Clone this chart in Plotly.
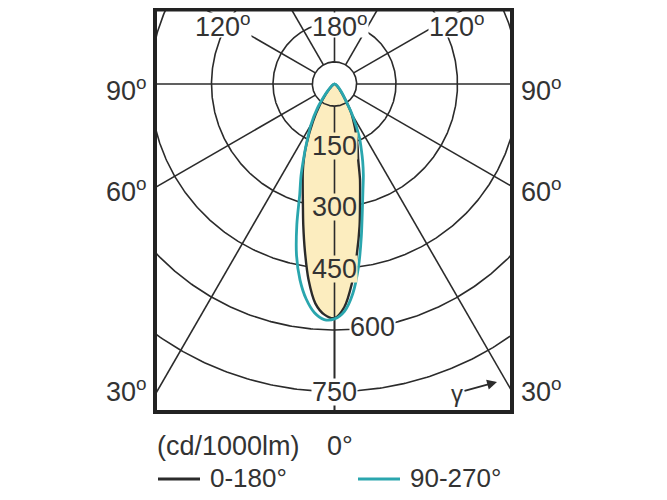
import numpy as np
import plotly.graph_objects as go

# ---------------- data ----------------
gamma = [0, 2.5, 5, 7.5, 10, 12.5, 15, 17.5, 20, 22.5, 25, 30, 35, 40, 45, 50, 60, 70, 80, 90]
c0 = [568, 545, 488, 418, 352, 288, 240, 192, 165, 140, 118, 82, 45, 25, 15, 9, 5, 2, 1, 0]
c180 = [571, 563, 537, 483, 415, 352, 298, 258, 226, 194, 162, 105, 62, 35, 20, 11, 5, 2, 1, 0]
c90 = [572, 555, 513, 449, 377, 314, 268, 234, 201, 170, 144, 87, 45, 28, 18, 12, 6, 3, 1, 0]
c270 = [573, 575, 560, 529, 485, 428, 355, 282, 239, 197, 163, 115, 74, 40, 22, 12, 6, 3, 1, 0]
ring_values = [150, 300, 450, 600, 750]
spoke_angles = [0, 30, 60, 90, 120, 150, 180, 210, 240, 270, 300, 330]
side_angle_labels = [90, 60, 30]
top_angle_labels = [120, 180, 120]
series_names = ["0-180°", "90-270°"]
unit_label = "(cd/1000lm)"
zero_label = "0°"

# ---------------- geometry / style ----------------
OFF = 8                        # page body margin
WIN_W, WIN_H = 667, 500
FW, FH = WIN_W - 2 * OFF, WIN_H - 2 * OFF
# plot box in window pixels
BX0, BX1, BY0, BY1 = 155, 512, OFF, 412
CX, CY = 334.5, 84.0          # pole position (window px)
K = 0.41                      # px per cd
HOLE = 54
PW, PH = BX1 - BX0, BY1 - BY0
xr = [-(CX - BX0) / K, (BX1 - CX) / K]
yr = [-(BY1 - CY) / K, (CY - BY0) / K]

INK = "#2b2b2b"
TXT = "#333333"
TEAL = "#2aa6ae"
CREAM = "#fcedbf"
FONT = "Liberation Sans, Arial, sans-serif"
FS = 27


def px2paper(px, py):
    return (px - BX0) / PW, (BY1 - py) / PH


def half(vals, side):
    g = np.radians(gamma)
    v = np.array(vals, dtype=float)
    return side * v * np.sin(g), -v * np.cos(g)


def lobe(left_vals, right_vals):
    lx, ly = half(left_vals, -1)
    rx, ry = half(right_vals, 1)
    return np.concatenate([lx[::-1], rx[1:]]), np.concatenate([ly[::-1], ry[1:]])


fig = go.Figure()

# rings
t = np.linspace(0, 2 * np.pi, 721)
rx, ry = [], []
for r in ring_values:
    rx += list(r * np.sin(t)) + [None]
    ry += list(-r * np.cos(t)) + [None]
fig.add_trace(go.Scatter(x=rx, y=ry, mode="lines", line=dict(color=INK, width=1.6),
                         hoverinfo="skip", showlegend=False))

# spokes
sx, sy = [], []
for a in spoke_angles:
    ar = np.radians(a)
    sx += [HOLE * np.sin(ar), 1500 * np.sin(ar), None]
    sy += [-HOLE * np.cos(ar), -1500 * np.cos(ar), None]
fig.add_trace(go.Scatter(x=sx, y=sy, mode="lines", line=dict(color=INK, width=1.6),
                         hoverinfo="skip", showlegend=False))

# lobe fill
bx, by = lobe(c180, c0)
tx, ty = lobe(c270, c90)
fig.add_trace(go.Scatter(x=bx, y=by, mode="lines", fill="toself", fillcolor=CREAM,
                         line=dict(color=CREAM, width=0.5, shape="spline", smoothing=0.8),
                         hoverinfo="skip", showlegend=False))

# hole circle and 0 deg axis on top of fill
hx = list(HOLE * np.sin(t)) + [None, 0, 0]
hy = list(-HOLE * np.cos(t)) + [None, -HOLE, -1500]
fig.add_trace(go.Scatter(x=hx, y=hy, mode="lines", line=dict(color=INK, width=1.6),
                         hoverinfo="skip", showlegend=False))

# curves
fig.add_trace(go.Scatter(x=bx, y=by, mode="lines", name=series_names[0], showlegend=False,
                         line=dict(color=INK, width=2.4, shape="spline", smoothing=0.8)))
fig.add_trace(go.Scatter(x=tx, y=ty, mode="lines", name=series_names[1], showlegend=False,
                         line=dict(color=TEAL, width=2.8, shape="spline", smoothing=0.8)))

font = dict(size=FS, color=TXT, family=FONT)
ann = []
# ring labels
for r in ring_values:
    inside = r <= 450
    ann.append(dict(x=0, y=-r, xref="x", yref="y", text=str(r), showarrow=False,
                    xanchor="center", yanchor="middle", height=26,
                    xshift=0 if r != 600 else 38, yshift=0 if r != 600 else 3,
                    font=font, bgcolor=CREAM if inside else "white", borderpad=0))

deg = "<sup>o</sup>"
# top angle labels
for txt, pxc in zip(top_angle_labels, [223.4, 340, 456.5]):
    xp, yp = px2paper(pxc, 25)
    ann.append(dict(x=xp, y=yp, xref="paper", yref="paper", text=f"{txt}{deg}", showarrow=False,
                    xanchor="center", yanchor="middle", height=24,
                    font=font, bgcolor="white", borderpad=0))

# side angle labels
for a, py in zip(side_angle_labels, [89, 190, 390]):
    xp, yp = px2paper(149, py)
    ann.append(dict(x=xp, y=yp, xref="paper", yref="paper", text=f"{a}{deg}", showarrow=False,
                    xanchor="right", yanchor="middle", font=font))
    xp, yp = px2paper(519, py)
    ann.append(dict(x=xp, y=yp, xref="paper", yref="paper", text=f"{a}{deg}", showarrow=False,
                    xanchor="left", yanchor="middle", font=font))

# bottom texts
xp, yp = px2paper(155, 446)
ann.append(dict(x=xp, y=yp, xref="paper", yref="paper", text=unit_label, showarrow=False,
                xanchor="left", yanchor="middle", font=font))
xp, yp = px2paper(325, 446)
ann.append(dict(x=xp, y=yp, xref="paper", yref="paper", text=zero_label, showarrow=False,
                xanchor="left", yanchor="middle", font=font))

# legend (manual)
LEG_Y = 478
shapes = []
for name, col, lx0, lx1, tx0 in [(series_names[0], INK, 158, 200, 208),
                                 (series_names[1], TEAL, 358, 400, 408)]:
    x0p, yp = px2paper(lx0, LEG_Y + 1)
    x1p, _ = px2paper(lx1, LEG_Y + 1)
    shapes.append(dict(type="line", xref="paper", yref="paper", x0=x0p, x1=x1p, y0=yp, y1=yp,
                       line=dict(color=col, width=3)))
    xp, yp = px2paper(tx0, LEG_Y)
    ann.append(dict(x=xp, y=yp, xref="paper", yref="paper", text=name, showarrow=False,
                    xanchor="left", yanchor="middle", height=26,
                    font=dict(size=26, color=TXT, family=FONT)))

# gamma arrow
xp, yp = px2paper(497, 382)
ann.append(dict(x=xp, y=yp, xref="paper", yref="paper", text="γ", showarrow=True,
                ax=-40, ay=11, arrowhead=2, arrowsize=1.1, arrowwidth=1.8, arrowcolor=INK,
                font=dict(size=24, color=TXT, family=FONT)))

# frame
shapes.append(dict(type="rect", xref="paper", yref="paper", x0=0, y0=0, x1=1, y1=1 - 1.5 / PH,
                   line=dict(color="#222222", width=4), layer="above"))

fig.update_layout(
    width=FW, height=FH,
    margin=dict(l=BX0 - OFF, r=FW - (BX1 - OFF), t=BY0 - OFF, b=FH - (BY1 - OFF), pad=0),
    paper_bgcolor="white", plot_bgcolor="white",
    xaxis=dict(range=xr, visible=False, fixedrange=True),
    yaxis=dict(range=yr, visible=False, fixedrange=True),
    annotations=ann,
    shapes=shapes,
    showlegend=False,
)

fig.write_html("out.html")
